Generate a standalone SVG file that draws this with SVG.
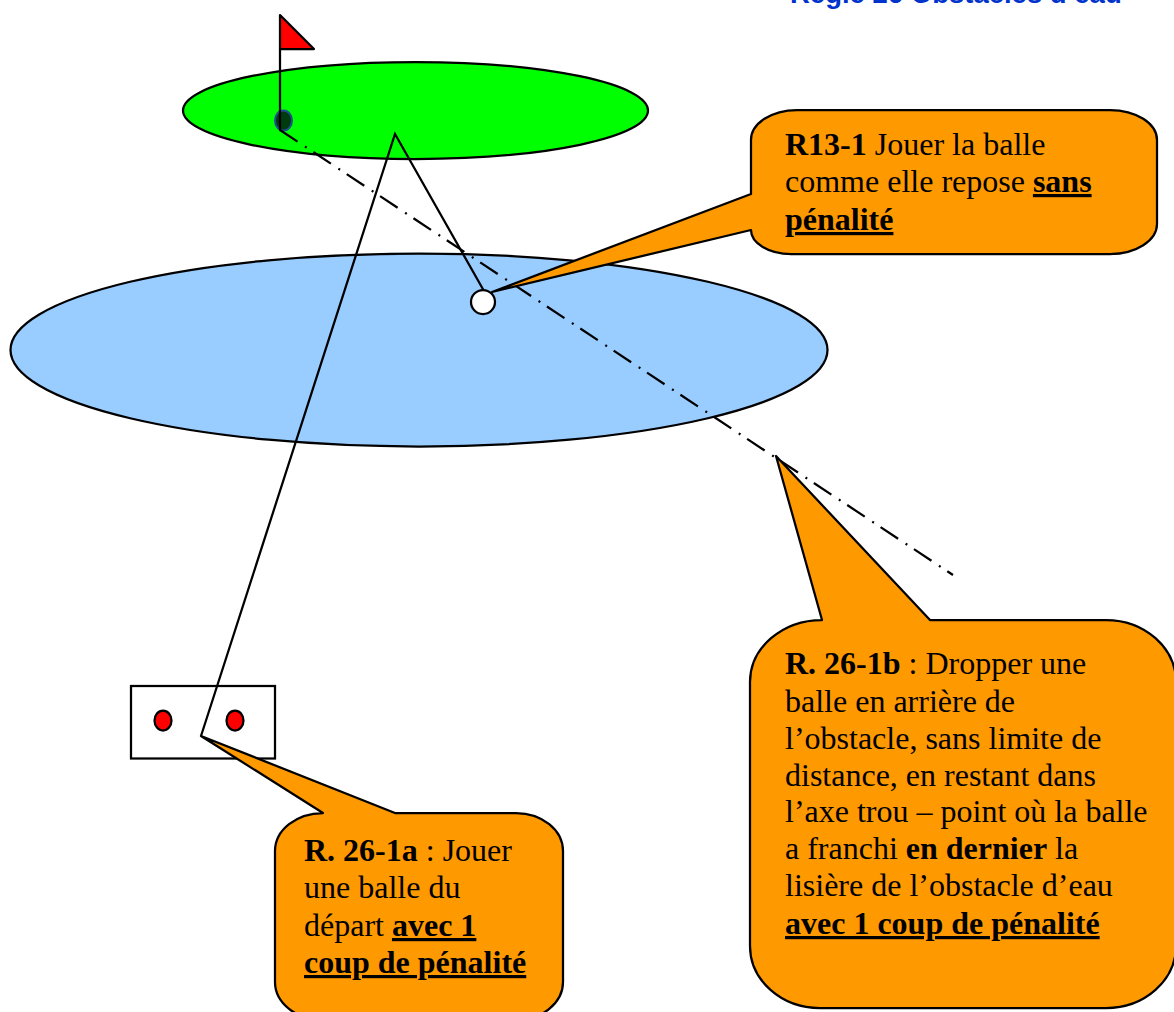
<svg xmlns="http://www.w3.org/2000/svg" width="1174" height="1012" viewBox="0 0 1174 1012">
<style>
.s{stroke:#000;stroke-width:2.250}
.c{fill:#f90;stroke:#000;stroke-width:2.250;stroke-linejoin:round}
.t{font-family:"Liberation Serif",serif;font-size:32px;fill:#000}
.b{font-weight:bold}
.u{font-weight:bold;text-decoration:underline;text-decoration-thickness:3.500px;text-underline-offset:4px;text-decoration-skip-ink:none}
.l{fill:none;stroke:#000;stroke-width:2.250}
</style>
<rect width="1174" height="1012" fill="#fff"/>
<text id="title" x="790" y="3" font-family="Liberation Sans,sans-serif" font-size="27.500px" font-weight="bold" fill="#0033cc">Règle 26 Obstacles d’eau</text>
<g id="green"><ellipse cx="415.500" cy="110.500" rx="232.500" ry="48.500" fill="#0f0" class="s"/></g>
<g id="water"><ellipse cx="419" cy="350" rx="408.500" ry="96.500" fill="#9cf" class="s"/></g>
<g id="tee"><rect x="131" y="686" width="144" height="72.500" fill="#fff" class="s"/>
<ellipse cx="163" cy="720.500" rx="8.500" ry="10" fill="#f00" class="s"/>
<ellipse cx="235" cy="720.500" rx="8.500" ry="10" fill="#f00" class="s"/></g>
<g id="flag"><ellipse cx="283.500" cy="120.500" rx="8.500" ry="10" fill="#003b10" stroke="#1f4f8f" stroke-width="2"/>
<path d="M280 130V15L314 49H280Z" fill="#f00" class="s" stroke-linejoin="round"/></g>
<g id="connectors">
<path class="l" d="M280 130L953 575" stroke-dasharray="21 9 2 8"/>
<path class="l" d="M201 736L395 134L484 291"/>
</g>
<g id="ball"><circle cx="483" cy="302" r="12" fill="#fff" class="s"/></g>
<g id="callout-r13"><path class="c" d="M797 110H1110A47 30 0 0 1 1157 140V224A47 30 0 0 1 1110 254H791A40 24 0 0 1 751 230L492 292L751 194V140A46 30 0 0 1 797 110Z"/>
<text class="t"><tspan x="785" y="155"><tspan class="b">R13-1</tspan> Jouer la balle</tspan><tspan x="785" y="192">comme elle repose <tspan class="u">sans</tspan></tspan><tspan x="785" y="230"><tspan class="u">pénalité</tspan></tspan></text></g>
<g id="callout-r26b"><path class="c" d="M822 620L776 456L930 620H1106A70 62 0 0 1 1176 682V946A70 62 0 0 1 1106 1008H820A70 62 0 0 1 750 946V682A72 62 0 0 1 822 620Z"/>
<text class="t"><tspan x="785" y="674"><tspan class="b">R. 26-1b</tspan> : Dropper une</tspan><tspan x="785" y="712">balle en arrière de</tspan><tspan x="785" y="749">l’obstacle, sans limite de</tspan><tspan x="785" y="786">distance, en restant dans</tspan><tspan x="785" y="822">l’axe trou – point où la balle</tspan><tspan x="785" y="859">a franchi <tspan class="b">en dernier</tspan> la</tspan><tspan x="785" y="896">lisière de l’obstacle d’eau</tspan><tspan x="785" y="934"><tspan class="u">avec 1 coup de pénalité</tspan></tspan></text></g>
<g id="callout-r26a"><path class="c" d="M323 813L201 736L395 813H516A47 38 0 0 1 563 851V982A47 38 0 0 1 516 1020H323A48 38 0 0 1 275 982V851A48 38 0 0 1 323 813Z"/>
<text class="t"><tspan x="304" y="861"><tspan class="b">R. 26-1a</tspan> : Jouer</tspan><tspan x="304" y="898">une balle du</tspan><tspan x="304" y="936">départ <tspan class="u">avec 1</tspan></tspan><tspan x="304" y="973"><tspan class="u">coup de pénalité</tspan></tspan></text></g>
</svg>
